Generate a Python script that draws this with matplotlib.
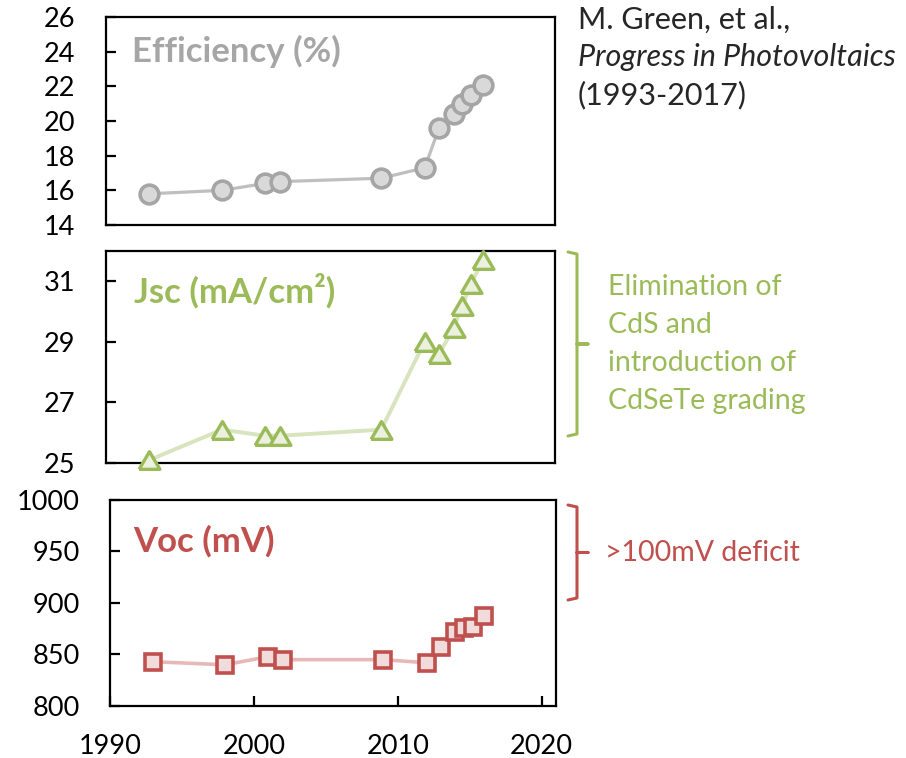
import matplotlib
matplotlib.use("Agg")
import matplotlib.pyplot as plt
from matplotlib.lines import Line2D

plt.rcParams['font.family'] = ['Lato', 'DejaVu Sans']

# ---- data ----
years_top = [1993, 1998, 2001, 2002, 2009, 2012, 2013, 2014, 2014.6, 2015.2, 2016]
efficiency = [15.8, 16.0, 16.4, 16.5, 16.7, 17.3, 19.6, 20.4, 21.0, 21.5, 22.1]
jsc = [25.1, 26.1, 25.9, 25.9, 26.1, 29.0, 28.6, 29.45, 30.2, 30.9, 31.7]
voc = [843, 840, 848, 845, 845, 842, 857, 872, 876, 877, 887]

eff_ticks = [14, 16, 18, 20, 22, 24, 26]
jsc_ticks = [25, 27, 29, 31]
voc_ticks = [800, 850, 900, 950, 1000]
x_ticks = [1990, 2000, 2010, 2020]

W, H = 906, 758
fig = plt.figure(figsize=(W / 100, H / 100), dpi=100)


def rect(l, t, r, b):
    return [l / W, 1 - b / H, (r - l) / W, (b - t) / H]


def fx(px):
    return px / W


def fy(py):
    return 1 - py / H


TICK_FS = 19.5
NOTE_FS = 20.5
TITLE_FS = 25
GRAY, GRAY_E, GRAY_F = '#bfbfbf', '#a5a5a5', '#d9d9d9'
GREEN, GREEN_L, GREEN_F = '#9bbb59', '#d7e4bd', '#ebf1de'
RED, RED_L, RED_F = '#c0504d', '#e6b9b8', '#f2dcdb'


def style(ax, yticks, ylim, show_x):
    ax.set_xlim(1990, 2021)
    ax.set_ylim(*ylim)
    ax.set_yticks(yticks)
    for s in ax.spines.values():
        s.set_linewidth(1.6)
        s.set_color('black')
    ax.tick_params(axis='y', direction='in', length=7, width=1.6,
                   labelsize=TICK_FS, pad=22, colors='black')
    if show_x:
        ax.set_xticks(x_ticks)
        ax.tick_params(axis='x', direction='in', length=7, width=1.6,
                       labelsize=TICK_FS, pad=20)
    else:
        ax.set_xticks([])


ax1 = fig.add_axes(rect(106, 17, 555, 225))
ax2 = fig.add_axes(rect(106, 251, 555, 463))
ax3 = fig.add_axes(rect(110, 500, 556, 706))

style(ax1, eff_ticks, (14, 26), False)
style(ax2, jsc_ticks, (25, 32), False)
style(ax3, voc_ticks, (800, 1000), True)

ax1.plot(years_top, efficiency, color=GRAY, lw=2.3, marker='o', ms=13.5,
         mfc=GRAY_F, mec=GRAY_E, mew=2.6, zorder=3, clip_on=False)
tri = [(-1, -0.85), (1, -0.85), (0, 0.85), (-1, -0.85)]
ax2.plot(years_top, jsc, color=GREEN_L, lw=2.8, marker=tri, ms=15,
         mfc=GREEN_F, mec=GREEN, mew=2.4, zorder=3, clip_on=False)
ax3.plot(years_top, voc, color=RED_L, lw=2.6, marker='s', ms=11,
         mfc=RED_F, mec=RED, mew=2.6, zorder=3, clip_on=False)

ax1.text(0.058, 0.835, 'Efficiency (%)', transform=ax1.transAxes,
         fontsize=TITLE_FS, fontweight='bold', color='#a6a6a6', va='center', ha='left')
ax2.text(0.062, 0.81, 'Jsc (mA/cm²)', transform=ax2.transAxes,
         fontsize=TITLE_FS, fontweight='bold', color=GREEN, va='center', ha='left')
ax3.text(0.053, 0.80, 'Voc (mV)', transform=ax3.transAxes,
         fontsize=TITLE_FS, fontweight='bold', color=RED, va='center', ha='left')

# citation
fig.text(fx(578), fy(20), 'M. Green, et al.,', fontsize=22,
         color='#262626', va='center', ha='left')
fig.text(fx(578), fy(57), 'Progress in Photovoltaics', fontsize=22,
         color='#262626', va='center', ha='left', style='italic')
fig.text(fx(578), fy(95), '(1993-2017)', fontsize=22,
         color='#262626', va='center', ha='left')


def bracket(top, bot, color):
    mid = (top + bot) / 2
    xs = [568, 577, 577, 588, 577, 577, 568]
    ys = [top, top + 2, mid, mid, mid, bot - 2, bot]
    fig.add_artist(Line2D([fx(x) for x in xs], [fy(y) for y in ys],
                          color=color, lw=2.2, solid_joinstyle='round',
                          solid_capstyle='round'))


# green bracket and text
bracket(252, 436, GREEN)
for i, line in enumerate(['Elimination of', 'CdS and',
                          'introduction of', 'CdSeTe grading']):
    fig.text(fx(608), fy(287 + 38 * i), line, fontsize=NOTE_FS,
             color=GREEN, va='center', ha='left')

# red bracket and text
bracket(505, 600, RED)
fig.text(fx(605), fy(553), '>100mV deficit', fontsize=NOTE_FS,
         color=RED, va='center', ha='left')

fig.savefig('out.png', dpi=100)
